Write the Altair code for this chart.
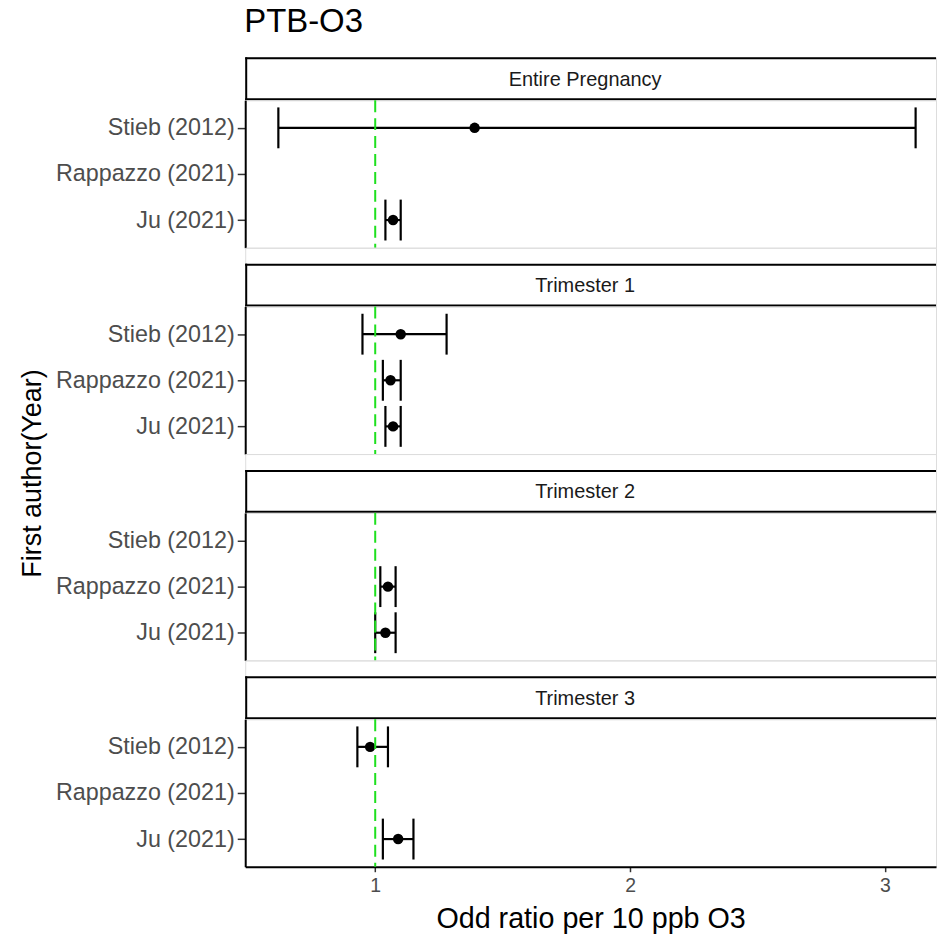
import altair as alt
import pandas as pd

# ---------------- data ----------------
panels = ["Entire Pregnancy", "Trimester 1", "Trimester 2", "Trimester 3"]
authors = ["Stieb (2012)", "Rappazzo (2021)", "Ju (2021)"]

study_period = ["Entire Pregnancy", "Entire Pregnancy",
                "Trimester 1", "Trimester 1", "Trimester 1",
                "Trimester 2", "Trimester 2",
                "Trimester 3", "Trimester 3"]
study_author = ["Stieb (2012)", "Ju (2021)",
                "Stieb (2012)", "Rappazzo (2021)", "Ju (2021)",
                "Rappazzo (2021)", "Ju (2021)",
                "Stieb (2012)", "Ju (2021)"]
or_est = [1.39, 1.07, 1.10, 1.06, 1.07, 1.05, 1.04, 0.98, 1.09]
ci_lo = [0.62, 1.04, 0.95, 1.03, 1.04, 1.02, 1.00, 0.93, 1.03]
ci_hi = [3.12, 1.10, 1.28, 1.10, 1.10, 1.08, 1.08, 1.05, 1.15]

ref_line = [1.0]
x_ticks = [1, 2, 3]
x_domain = [0.49, 3.2]

df = pd.DataFrame({"period": study_period, "author": study_author,
                   "or": or_est, "lo": ci_lo, "hi": ci_hi})
ref_df = pd.DataFrame({"ref": ref_line})

# ---------------- layout / style ----------------
W = 693
STRIP_H = 43
GAP = 16
PANEL_H = 148
FONT = "Liberation Sans"
GREEN = "#1EE01E"

xscale = alt.Scale(domain=x_domain, nice=False, zero=False)
yscale = alt.Scale(type="point", domain=authors, padding=0.6)


def strip(p, first):
    h = STRIP_H if first else STRIP_H + GAP
    top = 0 if first else GAP
    base = alt.Chart(pd.DataFrame({"panel": [p]}))
    edge = dict(color="black", strokeWidth=2)
    top_line = base.mark_rule(**edge).encode(
        x=alt.value(0), x2=alt.value(W), y=alt.value(top + 1))
    bottom_line = base.mark_rule(**edge).encode(
        x=alt.value(0), x2=alt.value(W), y=alt.value(h - 1))
    left_line = base.mark_rule(**edge).encode(
        x=alt.value(1), y=alt.value(top), y2=alt.value(h))
    txt = base.mark_text(font=FONT, fontSize=20, color="#1A1A1A",
                         baseline="middle", align="center").encode(
        text="panel:N", x=alt.value(341), y=alt.value(top + STRIP_H / 2 + 1))
    ch = alt.layer(top_line, bottom_line, left_line, txt).properties(width=W, height=h)
    if first:
        ch = ch.properties(title=alt.Title(
            "PTB-O3", anchor="start", fontSize=33, font=FONT,
            fontWeight="normal", color="black", offset=17))
    return ch


def panel(p, last, ytitle):
    base = alt.Chart(df).transform_filter(alt.datum.period == p)
    if last:
        xaxis = alt.Axis(values=x_ticks, format="d", title="Odd ratio per 10 ppb O3",
                         titleFont=FONT, titleFontSize=28.8, titleFontWeight="normal",
                         titleColor="black", titlePadding=9,
                         labelFont=FONT, labelFontSize=19.5, labelColor="#4D4D4D",
                         labelPadding=5, tickColor="#333333", tickSize=5, tickWidth=1.5,
                         domainColor="black", domainWidth=2, grid=False)
    else:
        xaxis = None
    yaxis_kwargs = dict(labelFont=FONT, labelFontSize=23.4, labelColor="#4D4D4D",
                        labelPadding=3, tickColor="#333333", tickSize=8, tickWidth=1.5,
                        domainColor="black", domainWidth=2, grid=False)
    if ytitle:
        yaxis = alt.Axis(title="First author(Year)", titleFont=FONT, titleFontSize=27,
                         titleFontWeight="normal", titleColor="black", titleAngle=270,
                         titleAlign="center", titleBaseline="alphabetic",
                         titleX=-205, titleY=167, **yaxis_kwargs)
    else:
        yaxis = alt.Axis(title=None, **yaxis_kwargs)

    y = alt.Y("author:N", scale=yscale, axis=yaxis, sort=authors)

    line = base.mark_rule(color="black", strokeWidth=2.2).encode(
        x=alt.X("lo:Q", scale=xscale, axis=xaxis), x2="hi:Q", y=y)
    cap_lo = base.mark_tick(orient="vertical", size=41, thickness=2.2, color="black",
                            opacity=1).encode(x=alt.X("lo:Q", scale=xscale), y=y)
    cap_hi = base.mark_tick(orient="vertical", size=41, thickness=2.2, color="black",
                            opacity=1).encode(x=alt.X("hi:Q", scale=xscale), y=y)
    pt = base.mark_circle(size=110, color="black", opacity=1).encode(
        x=alt.X("or:Q", scale=xscale), y=y)
    vline = alt.Chart(ref_df).mark_rule(color=GREEN, strokeWidth=2,
                                        strokeDash=[12, 6]).encode(
        x=alt.X("ref:Q", scale=xscale))
    return alt.layer(line, cap_lo, cap_hi, pt, vline).properties(width=W, height=PANEL_H)


cells = []
for i, p in enumerate(panels):
    cells.append(strip(p, i == 0))
    cells.append(panel(p, i == len(panels) - 1, i == 1))

chart = alt.vconcat(*cells, spacing=0, bounds="flush").properties(
    padding={"left": 18, "top": 4, "right": 0, "bottom": 5}
).configure_view(stroke=None).configure(background="white")

chart.save("out.html", embed_options={"renderer": "svg", "actions": False})
